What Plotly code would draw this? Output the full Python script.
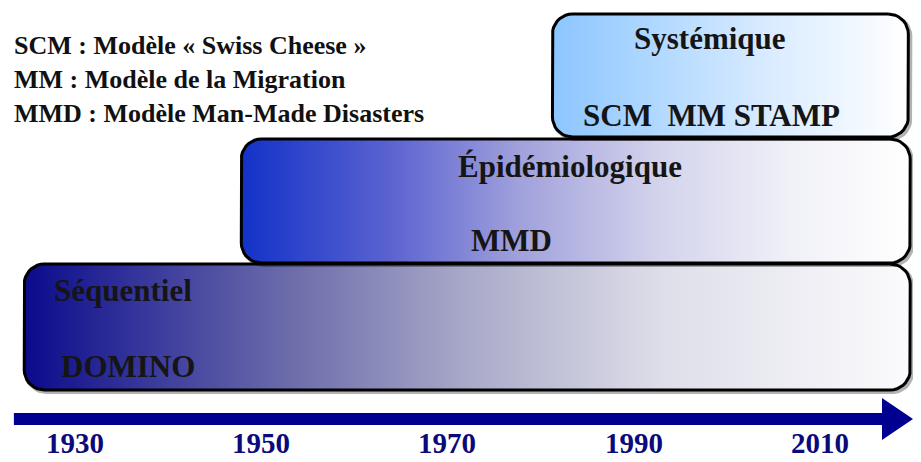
import numpy as np
import plotly.graph_objects as go

# timeline data
years = [1930, 1950, 1970, 1990, 2010]
periods = ["Séquentiel", "Épidémiologique", "Systémique"]
period_start = [1924.6, 1947.9, 1981.3]
period_end = [2019.7, 2019.7, 2019.5]
period_models = ["DOMINO", "MMD", "SCM  MM STAMP"]
legend_lines = [
  "SCM : Modèle « Swiss Cheese »",
  "MM : Modèle de la Migration",
  "MMD : Modèle Man-Made Disasters",
]

W, H = 921, 462
PAGE_MARGIN = 8   # default body margin of the html page
VIEW_W = 913      # visible page width in the screenshot
X0, X1 = 1922.0, 2020.0
REF_PX_PER_YEAR = W / (X1 - X0)
PX_PER_YEAR = VIEW_W / (X1 - X0)


def px_to_year(px):
  """ reference pixel -> year """
  return X0 + px / REF_PX_PER_YEAR


# vertical bands (pixel units, y axis reversed)
tier_top = [264, 139, 14]
tier_bottom = [390, 263, 137]
fills = [
  [[0, "#0b0b8c"], [0.12, "#32329a"], [0.3, "#6c6cab"], [0.5, "#a9a9c9"], [0.72, "#dedee9"], [1, "#fbfbfd"]],
  [[0, "#1232c8"], [0.22, "#5a62d0"], [0.42, "#a2a2dc"], [0.62, "#d2d2ec"], [0.82, "#f0f0f8"], [1, "#ffffff"]],
  [[0, "#8cc6ff"], [0.3, "#b2d9ff"], [0.62, "#dbecff"], [1, "#ffffff"]],
]
# label placement: (anchor, x px, y px) for title and model line
title_place = [("left", 52, 290), ("center", 575, 166), ("center", 716, 38)]
model_place = [("left", 60, 366), ("center", 516, 240), ("left", 586, 115)]


def rounded_rect(x0, x1, y0, y1, r_px=20, n=10):
  rx = r_px / PX_PER_YEAR
  ry = r_px
  xs, ys = [], []
  corners = [
    (x1 - rx, y0 + ry, -np.pi / 2, 0),
    (x1 - rx, y1 - ry, 0, np.pi / 2),
    (x0 + rx, y1 - ry, np.pi / 2, np.pi),
    (x0 + rx, y0 + ry, np.pi, 1.5 * np.pi),
  ]
  for cx, cy, a0, a1 in corners:
    t = np.linspace(a0, a1, n)
    xs.extend(cx + rx * np.cos(t))
    ys.extend(cy + ry * np.sin(t))
  xs.append(xs[0])
  ys.append(ys[0])
  return xs, ys


fig = go.Figure()
serif = "Liberation Serif"
text_color = "#151515"

for i, name in enumerate(periods):
  xs, ys = rounded_rect(period_start[i], period_end[i], tier_top[i], tier_bottom[i])
  # soft shadow
  fig.add_trace(go.Scatter(
    x=[v + 2 / PX_PER_YEAR for v in xs], y=[v + 2 for v in ys], mode="lines",
    line=dict(color="rgba(0,0,0,0.3)", width=4), hoverinfo="skip", showlegend=False
  ))
  fig.add_trace(go.Scatter(
    x=xs, y=ys, mode="lines", fill="toself",
    fillgradient=dict(type="horizontal", colorscale=fills[i]),
    line=dict(color="black", width=3), hoverinfo="skip", showlegend=False
  ))
  for label, (anchor, px, py) in ((name, title_place[i]), (period_models[i], model_place[i])):
    fig.add_annotation(
      x=px_to_year(px), y=py, text=f"<b>{label}</b>", showarrow=False,
      xanchor=anchor, yanchor="middle", font=dict(family=serif, size=31, color=text_color)
    )

# time arrow
arrow_y, shaft_half, head_half = 419, 6, 21
arrow_x0 = px_to_year(14)
head_x0 = X1 - 31 / PX_PER_YEAR
fig.add_trace(go.Scatter(
  x=[arrow_x0, head_x0, head_x0, X1, head_x0, head_x0, arrow_x0, arrow_x0],
  y=[arrow_y - shaft_half, arrow_y - shaft_half, arrow_y - head_half, arrow_y,
     arrow_y + head_half, arrow_y + shaft_half, arrow_y + shaft_half, arrow_y - shaft_half],
  mode="lines", fill="toself", fillcolor="#000090", line=dict(color="#000090", width=0),
  hoverinfo="skip", showlegend=False
))

for yr in years:
  fig.add_annotation(
    x=yr, y=443, text=f"<b>{yr}</b>", showarrow=False, yanchor="middle",
    font=dict(family=serif, size=29, color="#0a0a7a")
  )

for k, line in enumerate(legend_lines):
  fig.add_annotation(
    x=px_to_year(12), y=45 + 34 * k, text=f"<b>{line}</b>", showarrow=False,
    xanchor="left", yanchor="middle", font=dict(family=serif, size=26, color="#111111")
  )

# the page adds an 8px body margin: keep the figure inside the visible area
# (no scrollbars) and shift the window so marks land on the page pixels
fig.update_xaxes(range=[X0 + PAGE_MARGIN / PX_PER_YEAR, X1], visible=False)
fig.update_yaxes(range=[H - PAGE_MARGIN, PAGE_MARGIN], visible=False)
fig.update_layout(
  width=VIEW_W - PAGE_MARGIN, height=H - 2 * PAGE_MARGIN, margin=dict(l=0, r=0, t=0, b=0),
  paper_bgcolor="white", plot_bgcolor="white"
)
fig.write_html("out.html")
